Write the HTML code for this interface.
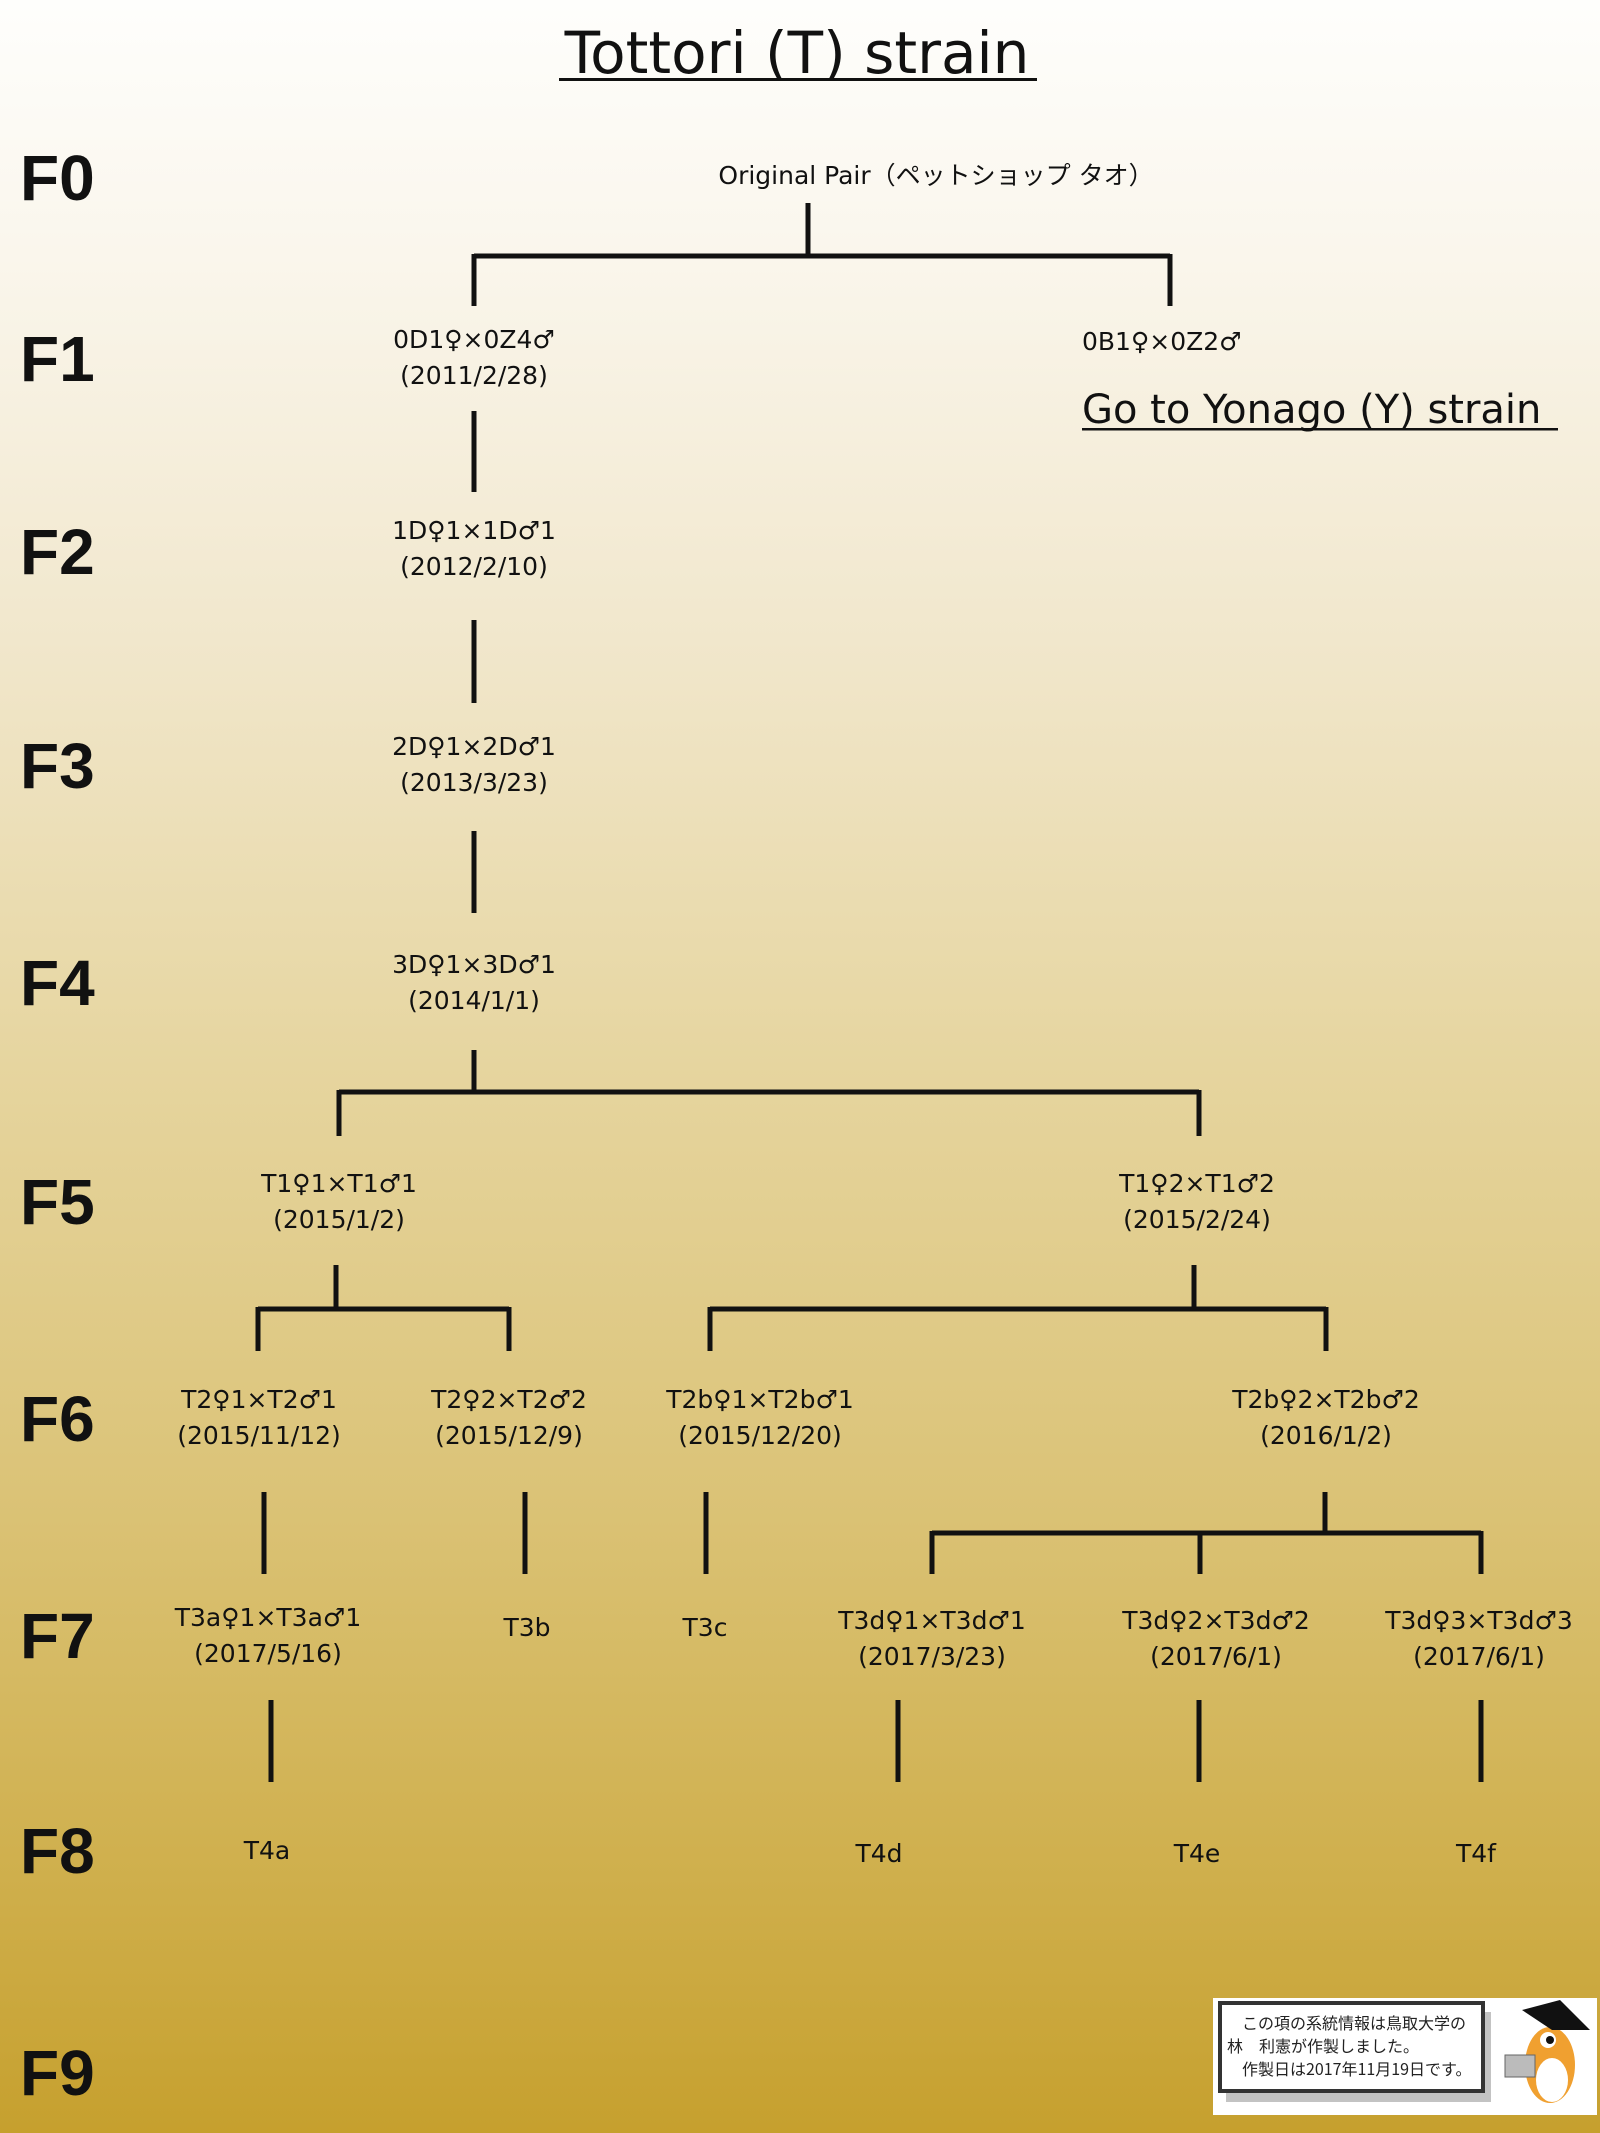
<!DOCTYPE html>
<html><head><meta charset="utf-8"><style>
html,body{margin:0;padding:0}
body{width:1600px;height:2133px;overflow:hidden;background:linear-gradient(180deg,#fefefc 0%,#faf6ec 12%,#f1e7cc 30%,#e6d59f 50%,#dbc377 70%,#cfaf4c 88%,#c6a02e 100%)}
svg{display:block}
.n{font-family:"DejaVu Sans","Noto Sans CJK JP",sans-serif;font-size:25px;fill:#111;text-anchor:middle}
.f{font-family:"Liberation Sans",sans-serif;font-weight:bold;font-size:64px;fill:#111}
</style></head><body>
<svg width="1600" height="2133" viewBox="0 0 1600 2133" xmlns="http://www.w3.org/2000/svg">
<text x="797" y="73" font-family="DejaVu Sans,sans-serif" font-size="58" text-anchor="middle" fill="#111">Tottori (T) strain</text>
<rect x="559" y="78" width="478" height="3" fill="#111"/>
<g class="f">
<text x="20" y="200">F0</text><text x="20" y="381">F1</text><text x="20" y="574">F2</text>
<text x="20" y="788">F3</text><text x="20" y="1005">F4</text><text x="20" y="1224">F5</text>
<text x="20" y="1441">F6</text><text x="20" y="1658">F7</text><text x="20" y="1873">F8</text>
<text x="20" y="2095">F9</text>
</g>
<g stroke="#111" stroke-width="5" fill="none">
<path d="M808 203V256M474 256H1170M474 254V306M1170 254V306"/>
<path d="M474 411V492M474 620V703M474 831V913"/>
<path d="M474 1050V1092M339 1092H1199M339 1090V1136M1199 1090V1136"/>
<path d="M336 1265V1309M258 1309H509M258 1307V1351M509 1307V1351"/>
<path d="M1194 1265V1309M710 1309H1326M710 1307V1351M1326 1307V1351"/>
<path d="M264 1492V1574M525 1492V1574M706 1492V1574"/>
<path d="M1325 1492V1533M932 1533H1481M932 1531V1574M1200 1531V1574M1481 1531V1574"/>
<path d="M271 1700V1782M898 1700V1782M1199 1700V1782M1481 1700V1782"/>
</g>
<g class="n">
<text x="936" y="184">Original Pair（ペットショップ タオ）</text>
<text x="474" y="348">0D1♀×0Z4♂</text><text x="474" y="384">(2011/2/28)</text>
<text x="1082" y="350" style="text-anchor:start">0B1♀×0Z2♂</text>
<text x="474" y="539">1D♀1×1D♂1</text><text x="474" y="575">(2012/2/10)</text>
<text x="474" y="755">2D♀1×2D♂1</text><text x="474" y="791">(2013/3/23)</text>
<text x="474" y="973">3D♀1×3D♂1</text><text x="474" y="1009">(2014/1/1)</text>
<text x="339" y="1192">T1♀1×T1♂1</text><text x="339" y="1228">(2015/1/2)</text>
<text x="1197" y="1192">T1♀2×T1♂2</text><text x="1197" y="1228">(2015/2/24)</text>
<text x="259" y="1408">T2♀1×T2♂1</text><text x="259" y="1444">(2015/11/12)</text>
<text x="509" y="1408">T2♀2×T2♂2</text><text x="509" y="1444">(2015/12/9)</text>
<text x="760" y="1408">T2b♀1×T2b♂1</text><text x="760" y="1444">(2015/12/20)</text>
<text x="1326" y="1408">T2b♀2×T2b♂2</text><text x="1326" y="1444">(2016/1/2)</text>
<text x="268" y="1626">T3a♀1×T3a♂1</text><text x="268" y="1662">(2017/5/16)</text>
<text x="527" y="1636">T3b</text><text x="705" y="1636">T3c</text>
<text x="932" y="1629">T3d♀1×T3d♂1</text><text x="932" y="1665">(2017/3/23)</text>
<text x="1216" y="1629">T3d♀2×T3d♂2</text><text x="1216" y="1665">(2017/6/1)</text>
<text x="1479" y="1629">T3d♀3×T3d♂3</text><text x="1479" y="1665">(2017/6/1)</text>
<text x="267" y="1859">T4a</text><text x="879" y="1862">T4d</text>
<text x="1197" y="1862">T4e</text><text x="1476" y="1862">T4f</text>
</g>
<text x="1082" y="423" font-family="DejaVu Sans,sans-serif" font-size="40" fill="#111">Go to Yonago (Y) strain</text>
<rect x="1082" y="428" width="476" height="2.5" fill="#111"/>
<rect x="1213" y="1998" width="384" height="117" fill="#fff"/>
<rect x="1226" y="2012" width="265" height="90" fill="#888" opacity="0.5"/>
<rect x="1220" y="2003" width="263" height="88" fill="#fff" stroke="#333" stroke-width="4"/>
<g font-family="Noto Sans CJK JP,sans-serif" font-size="16" fill="#222">
<text x="1242" y="2029">この項の系統情報は鳥取大学の</text>
<text x="1227" y="2052">林　利憲が作製しました。</text>
<text x="1242" y="2075">作製日は2017年11月19日です。</text>
</g>
<ellipse cx="1550" cy="2065" rx="25" ry="38" fill="#f0a030"/>
<ellipse cx="1552" cy="2080" rx="16" ry="22" fill="#fff"/>
<circle cx="1548" cy="2040" r="8" fill="#fff"/><circle cx="1550" cy="2040" r="4" fill="#111"/>
<path d="M1522 2010 L1560 2000 L1590 2030 L1552 2030Z" fill="#111"/>
<rect x="1505" y="2055" width="30" height="22" fill="#bbb" stroke="#666"/>
</svg>
</body></html>
